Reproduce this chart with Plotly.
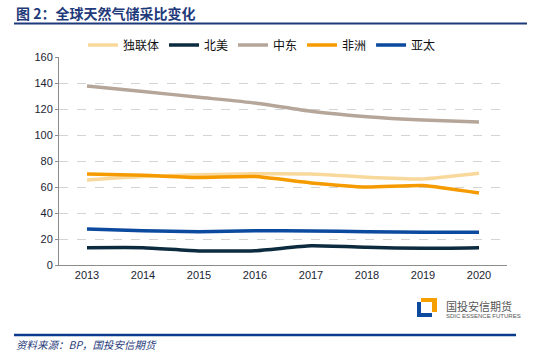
import plotly.graph_objects as go

years = ["2013", "2014", "2015", "2016", "2017", "2018", "2019", "2020"]
cis = [65.4, 68.0, 69.4, 70.2, 70.0, 67.5, 66.2, 70.5]
north_america = [13.3, 13.3, 10.8, 11.0, 14.8, 13.6, 12.8, 13.3]
middle_east = [137.7, 133.5, 129.0, 124.6, 118.2, 114.0, 111.5, 110.0]
africa = [70.0, 69.0, 67.3, 68.0, 63.1, 60.0, 61.2, 55.4]
asia_pacific = [27.7, 26.4, 25.6, 26.4, 26.2, 25.6, 25.1, 25.1]

series = [
    ("独联体", cis, "#F9D89C"),
    ("北美", north_america, "#0D2B3E"),
    ("中东", middle_east, "#B5A699"),
    ("非洲", africa, "#F59B00"),
    ("亚太", asia_pacific, "#0B4A9E"),
]

FONT = "Liberation Sans, Noto Sans CJK SC, sans-serif"
NAVY = "#1F3A7A"

fig = go.Figure()
for name, vals, color in series:
    fig.add_trace(go.Scatter(
        x=years, y=vals, name=name, mode="lines",
        line=dict(color=color, width=3.5, shape="spline", smoothing=0.5),
    ))


def px(x):
    return (x - 59) / 448


def py(y):
    return (265 - y) / 208


fig.update_layout(
    width=533, height=353,
    margin=dict(l=59, r=26, t=57, b=88),
    paper_bgcolor="white", plot_bgcolor="white",
    font=dict(family=FONT, size=11, color="#222222"),
    showlegend=True,
    legend=dict(orientation="h", x=px(262), xanchor="center", xref="paper",
                y=py(45), yanchor="middle", font=dict(size=12, color="#111111"),
                itemwidth=30, tracegroupgap=0, bgcolor="rgba(0,0,0,0)"),
    xaxis=dict(type="category", range=[-0.5, 7.5], showgrid=False,
               showline=True, linecolor="#8C8C8C", linewidth=1,
               ticks="", tickfont=dict(size=11, color="#1a2433"), fixedrange=True),
    yaxis=dict(range=[0, 160], dtick=20, showgrid=True, gridcolor="#D4D4D4",
               griddash="dash", gridwidth=1, zeroline=False,
               showline=True, linecolor="#8C8C8C", linewidth=1,
               ticks="outside", ticklen=3, tickcolor="#8C8C8C",
               tickfont=dict(size=11, color="#1a2433"), fixedrange=True),
)

shapes = [
    # title underline
    dict(type="line", xref="paper", yref="paper",
         x0=px(14), x1=px(527), y0=py(23.5), y1=py(23.5),
         line=dict(color=NAVY, width=2)),
    # bottom line
    dict(type="line", xref="paper", yref="paper",
         x0=px(14), x1=px(516), y0=py(335), y1=py(335),
         line=dict(color="#0B3A8C", width=2.5)),
]

# logo: orange block and blue L
shapes.append(dict(type="rect", xref="paper", yref="paper",
                   x0=px(421), x1=px(437), y0=py(312), y1=py(298),
                   fillcolor="#F5A000", line=dict(width=0)))
shapes.append(dict(type="rect", xref="paper", yref="paper",
                   x0=px(417), x1=px(432), y0=py(317), y1=py(302),
                   fillcolor="#0B4A9E", line=dict(width=0)))
shapes.append(dict(type="rect", xref="paper", yref="paper",
                   x0=px(421), x1=px(432), y0=py(313), y1=py(302),
                   fillcolor="white", line=dict(width=0)))
fig.update_layout(shapes=shapes)

fig.add_annotation(text="<b>图 2：全球天然气储采比变化</b>", xref="paper", yref="paper",
                   x=px(14), y=py(13), xanchor="left", yanchor="middle",
                   showarrow=False, font=dict(family="Noto Sans CJK SC", size=14, color=NAVY))
fig.add_annotation(text="<i>资料来源：BP，国投安信期货</i>", xref="paper", yref="paper",
                   x=px(14), y=py(344.5), xanchor="left", yanchor="middle",
                   showarrow=False, font=dict(family="Noto Sans CJK SC", size=10.5, color=NAVY))
fig.add_annotation(text="国投安信期货", xref="paper", yref="paper",
                   x=px(444), y=py(306), xanchor="left", yanchor="middle",
                   showarrow=False, font=dict(family="Noto Sans CJK SC", size=11, color="#555555"))
fig.add_annotation(text="SDIC ESSENCE FUTURES", xref="paper", yref="paper",
                   x=px(444), y=py(316), xanchor="left", yanchor="middle",
                   showarrow=False, font=dict(family="Liberation Sans Narrow, Liberation Sans", size=6, color="#555555"))

fig.write_html("out.html")
